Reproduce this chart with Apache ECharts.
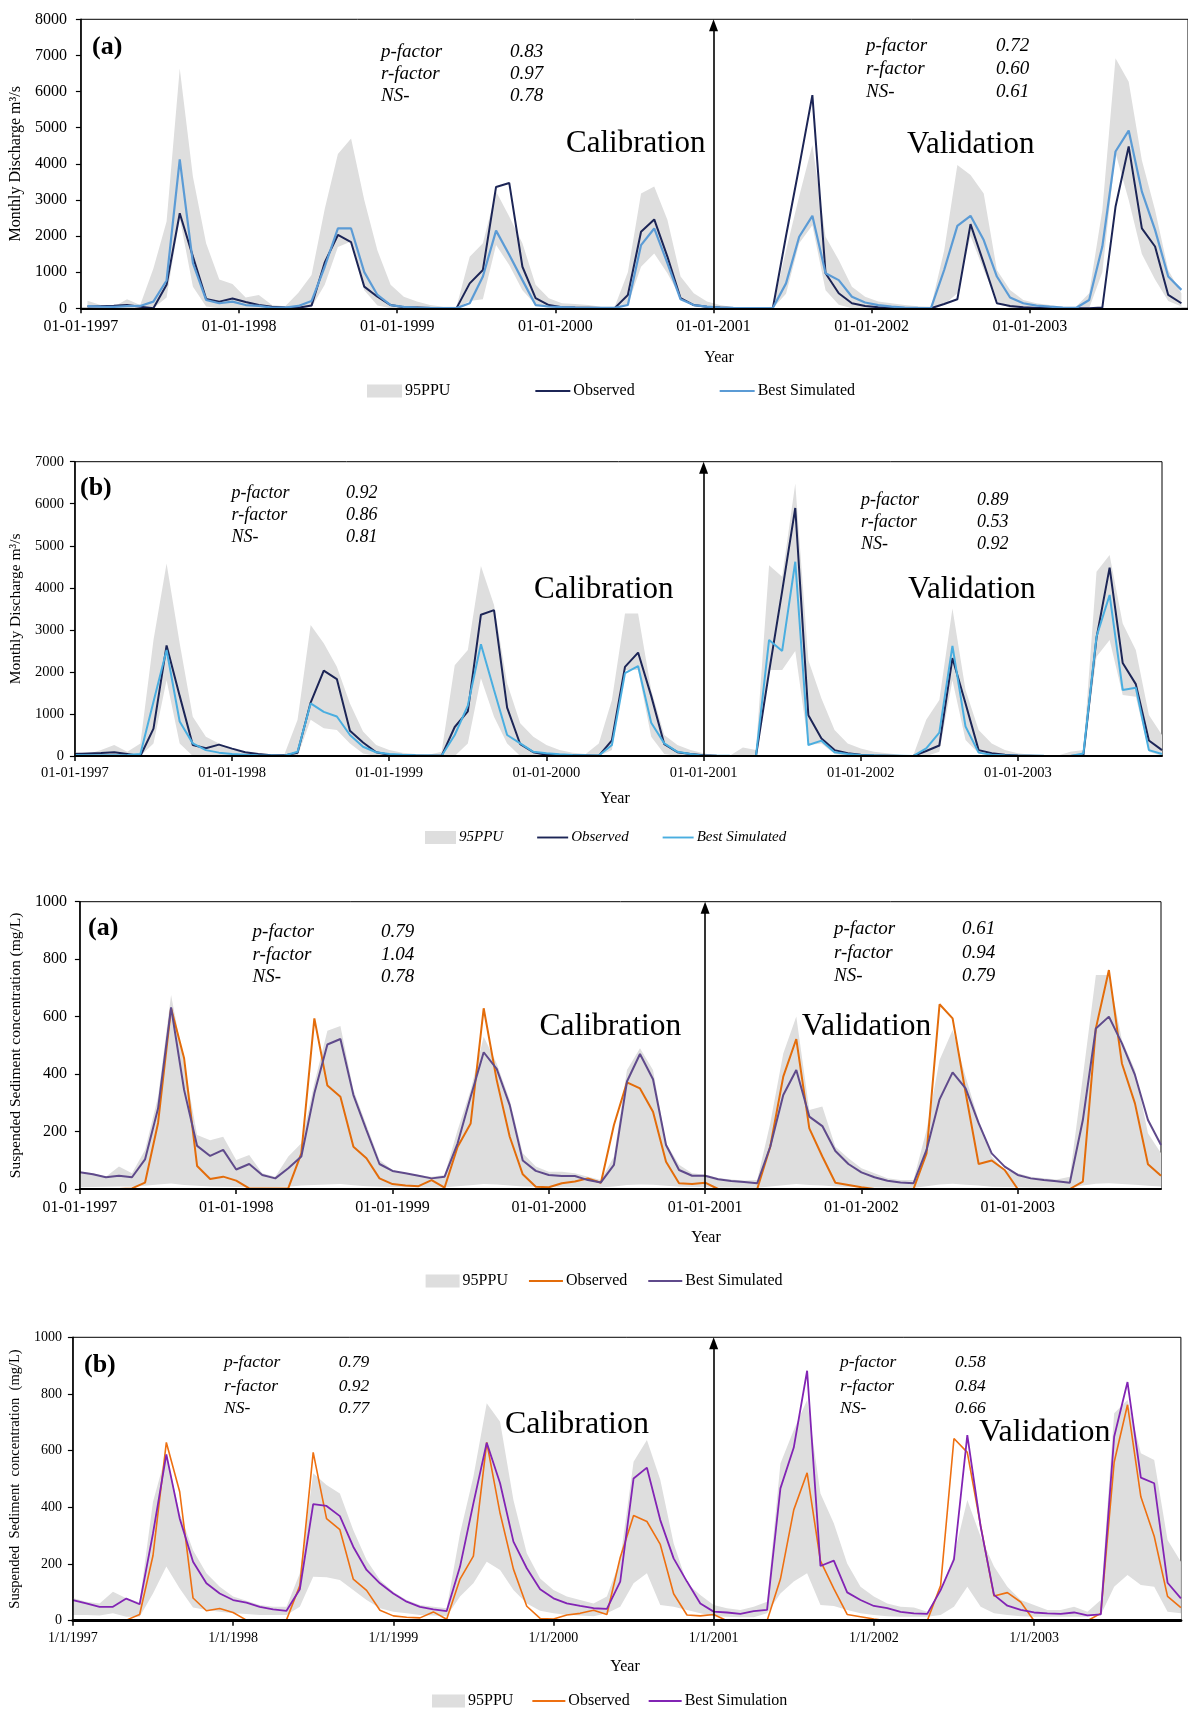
<!DOCTYPE html>
<html><head><meta charset="utf-8">
<script src="https://cdn.jsdelivr.net/npm/echarts@6/dist/echarts.min.js"></script>
<style>html,body{margin:0;padding:0;background:#fff}#c{width:1188px;height:1709px}</style>
</head><body><div id="c"></div>
<script>
// ---------- DATA (monthly, Jan 1997 .. Dec 2003) ----------
const tickLabelsDash = ['01-01-1997','01-01-1998','01-01-1999','01-01-2000','01-01-2001','01-01-2002','01-01-2003'];
const tickLabelsSlash = ['1/1/1997','1/1/1998','1/1/1999','1/1/2000','1/1/2001','1/1/2002','1/1/2003'];
const tickMonths = [0,12,24,36,48,60,72];

// Discharge (m3/s)
const obsQ = [50,60,70,90,45,0,650,2630,1430,260,185,270,
  175,90,45,20,15,75,1270,2030,1830,600,320,90,
  30,20,10,5,5,690,1060,3360,3470,1150,280,90,
  30,20,15,10,5,370,2120,2460,1430,280,90,45,
  20,5,0,0,0,2000,3920,5900,970,415,140,65,
  30,10,5,0,0,120,250,2330,1250,140,65,30,
  10,5,0,0,0,20,2810,4480,2210,1710,370,140];
const simQa = [60,45,40,60,65,185,770,4120,1250,230,140,185,
  90,65,20,20,65,200,1150,2210,2210,1000,370,90,
  40,20,10,5,5,140,880,2150,1480,780,90,50,
  30,20,15,10,10,90,1750,2210,1250,250,90,45,
  20,10,5,5,10,690,1980,2560,970,780,320,160,
  90,45,20,10,5,1060,2280,2560,1890,880,300,140,
  75,45,20,10,230,1710,4340,4920,3230,2170,880,510];
const upQa = [212,90,46,250,90,1100,2400,6640,3640,1800,800,670,
  300,370,90,60,430,920,2750,4270,4700,3000,1600,650,
  320,185,90,46,46,1430,1800,3230,2540,1800,650,280,
  140,120,90,46,46,1000,3180,3370,2450,880,415,185,
  90,30,20,20,40,1600,3100,4520,1980,1340,600,320,
  185,140,90,60,45,1600,3970,3690,3180,1060,510,230,
  140,90,45,45,415,2720,6920,6270,4100,2720,1060,415];
const loQa = [0,0,0,0,0,0,300,2500,600,50,0,0,
  0,0,0,0,0,30,650,1700,1850,500,80,0,
  0,0,0,0,0,200,250,1750,1200,500,100,0,
  0,0,0,0,0,100,1150,1520,970,300,50,0,
  0,0,0,0,0,400,1800,2300,500,100,0,0,
  0,0,0,0,0,100,415,2000,1060,200,0,0,
  0,0,0,0,0,1000,4300,3000,1500,800,200,50];
const simQb = [25,20,20,20,25,50,1290,2520,820,300,140,80,
  50,30,15,10,5,100,1250,1050,940,500,220,90,
  50,30,15,10,5,500,1200,2660,1570,500,300,100,
  63,40,24,15,10,260,1970,2140,790,300,100,50,
  8,5,3,2,0,2760,2500,4620,260,365,87,48,
  25,15,8,5,0,180,555,2620,700,80,30,15,
  8,5,3,2,0,60,2840,3830,1570,1625,140,48];
const upQb = [100,50,140,260,100,300,2760,4580,2680,935,460,300,
  180,100,63,30,40,860,3115,2680,2125,1250,580,260,
  140,80,50,30,100,2160,2520,4520,3590,1730,780,460,
  260,140,80,50,300,1330,3390,3390,1570,500,260,140,
  63,5,5,200,140,4540,4265,6480,2280,1370,620,300,
  180,100,63,30,5,860,1330,3510,1570,620,300,140,
  63,30,5,5,100,140,4380,4780,3150,2520,975,500];
const loQb = [0,0,0,0,0,0,300,1800,300,0,0,0,
  0,0,0,0,0,0,860,660,620,300,60,0,
  0,0,0,0,0,0,300,1850,935,300,0,0,
  0,0,0,0,0,140,2045,2045,460,50,0,0,
  0,0,0,0,0,2045,2045,2500,260,300,50,0,
  0,0,0,0,0,0,100,1800,380,60,0,0,
  0,0,0,0,0,0,2360,2760,1450,1410,100,0];

// Suspended sediment concentration (mg/L)
const obsSSC = [0,0,0,0,2,22,230,629,455,80,35,43,
  29,2,2,2,3,124,594,360,321,147,107,37,
  17,12,10,31,5,147,228,629,379,182,51,8,
  6,20,26,37,22,223,371,350,269,95,20,17,
  22,0,0,0,0,147,391,522,211,113,22,14,
  6,0,0,0,0,124,643,594,335,87,99,66,
  0,0,0,0,0,26,559,762,437,298,86,46];
const simSSCa = [58,51,41,46,41,103,280,632,345,150,115,136,
  68,87,49,37,72,113,333,503,522,327,205,87,
  63,55,46,37,43,159,321,476,418,292,99,63,
  49,45,45,31,23,84,374,470,382,153,66,46,
  46,34,28,24,20,147,327,414,252,219,132,87,
  58,41,29,23,20,136,312,406,350,229,124,78,
  49,37,31,27,22,240,559,600,507,397,240,153];
const upSSCa = [60,55,43,78,55,136,321,675,437,188,170,182,
  101,118,55,43,113,159,368,551,567,345,223,101,
  66,55,49,43,49,205,345,530,437,310,124,78,
  60,60,55,43,31,113,414,490,414,159,84,55,
  50,38,33,30,31,229,472,600,275,287,147,107,
  72,55,37,31,31,205,449,553,391,240,113,66,
  55,43,37,33,43,391,745,745,519,414,194,124];
const loSSCa = [6,7,8,9,8,11,16,19,14,11,9,8,
  7,6,6,7,8,12,14,16,17,13,10,8,
  7,6,6,5,6,10,13,17,16,12,9,8,
  7,6,6,5,5,9,14,16,15,11,8,7,
  6,5,5,4,4,9,13,17,14,12,9,7,
  6,5,5,4,4,10,16,18,15,12,8,7,
  6,5,5,4,4,12,18,20,17,15,11,9];
const simSSCb = [73,61,49,49,78,58,308,587,361,208,132,96,
  73,64,49,40,35,111,411,405,369,261,179,132,
  96,67,49,40,34,191,414,628,485,279,185,111,
  79,61,52,44,42,138,502,540,355,220,138,61,
  32,29,24,34,38,467,611,882,193,212,100,73,
  52,44,31,26,24,108,216,655,332,91,53,38,
  29,26,24,29,19,22,649,842,505,485,134,79];
const upSSCb = [80,67,61,102,79,65,420,591,379,249,167,120,
  85,70,55,49,49,167,520,479,449,320,214,144,
  102,73,55,49,44,308,508,767,702,426,238,149,
  108,85,73,61,85,214,561,638,497,273,132,91,
  55,44,38,49,67,555,673,779,449,344,202,120,
  85,61,49,47,32,108,230,426,296,191,120,73,
  55,38,38,49,32,73,732,779,591,567,285,208];
const loSSCb = [20,20,18,26,14,14,96,191,114,47,38,32,
  26,24,20,20,20,49,155,153,144,108,73,44,
  32,26,20,18,16,85,132,208,179,108,61,35,
  26,20,18,16,26,49,132,167,55,49,38,26,
  16,14,12,12,26,96,138,167,55,52,38,26,
  20,16,14,14,14,20,49,120,49,26,20,16,
  14,14,14,14,14,20,120,161,126,120,32,26];

// statistics text
const statNames = ['p-factor','r-factor','NS-'];
const calStats = [['0.83','0.97','0.78'],['0.92','0.86','0.81'],['0.79','1.04','0.78'],['0.79','0.92','0.77']];
const valStats = [['0.72','0.60','0.61'],['0.89','0.53','0.92'],['0.61','0.94','0.79'],['0.58','0.84','0.66']];
const panelTags = ['(a)','(b)','(a)','(b)'];
const simNames = ['Best Simulated','Best Simulated','Best Simulated','Best Simulation'];
const yNames = ['Monthly Discharge m³/s','Monthly Discharge m³/s','Suspended Sediment concentration (mg/L)','Suspended  Sediment  concentration  (mg/L)'];

// ---------- LAYOUT / STYLE ----------
const SERIF = '"Liberation Serif","Times New Roman",serif';
const BAND = '#dedede';
const LINE_ICON = 'path://M0,0H36V2.2H0Z';
const panels = [
  {obs:obsQ, sim:simQa, up:upQa, lo:loQa, labels:tickLabelsDash, off:0.5, xmax:84, ymax:8000, yint:1000,
   grid:{left:77.7, top:19.3, width:1115.5, height:289}, fs:16, yfs:16, ynameGap:52, ymargin:14, xmargin:10, xw:2,
   obsColor:'#1c2556', simColor:'#5b9bd5', obsW:2, simW:2.2,
   legend:{left:367, top:383, itemWidth:35, itemGap:85, fs:16, italic:false},
   tag:{x:92,y:47}, cal:{x:381, vx:510, y:[52,74,96]}, val:{x:866, vx:996, y:[46,68.5,91.5]},
   calT:{x:566,y:144,fs:31}, valT:{x:907,y:145,fs:31}, yearT:{x:719,y:358}, statFs:19},
  {obs:obsQ, sim:simQb, up:upQb, lo:loQb, labels:tickLabelsDash, off:0, xmax:83, ymax:7000, yint:1000,
   grid:{left:67, top:461.7, width:1095, height:294.3}, fs:14.5, yfs:15.5, ynameGap:44, ymargin:11, xmargin:10, xw:2,
   obsColor:'#1c2556', simColor:'#4aaee0', obsW:2, simW:2,
   legend:{left:425, top:830, itemWidth:31, itemGap:34, fs:15, italic:true},
   tag:{x:80,y:488}, cal:{x:231.5, vx:346, y:[493,515.7,537]}, val:{x:861, vx:977, y:[500,522,544]},
   calT:{x:534,y:590,fs:31}, valT:{x:908,y:590,fs:31}, yearT:{x:615,y:799}, statFs:18},
  {obs:obsSSC, sim:simSSCa, up:upSSCa, lo:loSSCa, labels:tickLabelsDash, off:0, xmax:83, ymax:1000, yint:200,
   grid:{left:76.5, top:901.7, width:1084.5, height:287.3}, fs:16, yfs:15.5, ynameGap:51, ymargin:13, xmargin:11, xw:2,
   obsColor:'#e36c0a', simColor:'#5f4a8b', obsW:2, simW:2,
   legend:{left:425.6, top:1273, itemWidth:34, itemGap:21, fs:16, italic:false},
   tag:{x:88,y:928}, cal:{x:252.6, vx:381, y:[931.7,955,977]}, val:{x:834, vx:962, y:[929,952.7,976]},
   calT:{x:539.6,y:1026.7,fs:31.5}, valT:{x:801.7,y:1026.7,fs:31.5}, yearT:{x:706,y:1238}, statFs:19},
  {obs:obsSSC, sim:simSSCb, up:upSSCb, lo:loSSCb, labels:tickLabelsSlash, off:0, xmax:83, ymax:1000, yint:200,
   grid:{left:68.9, top:1337.3, width:1112, height:283.4}, fs:14, yfs:14.5, ynameGap:47, ymargin:11, xmargin:11, xw:3,
   obsColor:'#ee7011', simColor:'#8224b4', obsW:1.6, simW:1.8,
   legend:{left:432, top:1693, itemWidth:33, itemGap:19, fs:16, italic:false},
   tag:{x:84,y:1365}, cal:{x:224, vx:338.7, y:[1362,1386,1408]}, val:{x:840, vx:955, y:[1362,1386,1408]},
   calT:{x:505,y:1425,fs:32}, valT:{x:979,y:1433,fs:32}, yearT:{x:625,y:1667}, statFs:17.5}
];

function pts(arr, off){ return arr.map((v,i)=>[i+off, v]); }

const grids=[], xAxes=[], yAxes=[], series=[], legends=[], graphics=[];
function txt(x,y,text,font,align){
  graphics.push({type:'text', x:x, y:y, silent:true, z:100,
    style:{text:text, font:font, fill:'#000', textAlign:align||'left', align:align||'left', textVerticalAlign:'middle', verticalAlign:'middle'}});
}

panels.forEach((p,k)=>{
  grids.push(Object.assign({show:true, borderColor:'#000', borderWidth:1, backgroundColor:'transparent', containLabel:false, z:0}, p.grid));
  xAxes.push({type:'value', gridIndex:k, min:0, max:p.xmax, interval:12, z:10,
    axisLine:{show:true, onZero:false, lineStyle:{color:'#000', width:p.xw}},
    axisTick:{show:true, inside:false, length:5, lineStyle:{color:'#000', width:1.5}, customValues:tickMonths},
    axisLabel:{show:true, margin:p.xmargin, color:'#000', fontFamily:SERIF, fontSize:p.fs, customValues:tickMonths,
      formatter:(v)=>{const j=tickMonths.indexOf(Math.round(v)); return j>=0?p.labels[j]:'';}},
    splitLine:{show:false}});
  yAxes.push({type:'value', gridIndex:k, min:0, max:p.ymax, interval:p.yint, z:10,
    name:yNames[k], nameLocation:'middle', nameGap:p.ynameGap, nameRotate:90,
    nameTextStyle:{color:'#000', fontFamily:SERIF, fontSize:p.yfs},
    axisLine:{show:true, lineStyle:{color:'#000', width:1.5}},
    axisTick:{show:true, inside:false, length:5, lineStyle:{color:'#000', width:1.2}},
    axisLabel:{margin:p.ymargin, color:'#000', fontFamily:SERIF, fontSize:p.fs, formatter:(v)=>String(v)},
    splitLine:{show:false}});
  const tagp = 'p'+k+'|';
  // 95PPU: upper bound filled grey, lower bound filled white on top of it
  series.push({type:'line', name:tagp+'95PPU', xAxisIndex:k, yAxisIndex:k,
    data:pts(p.up,p.off), symbol:'none', silent:true, z:1, color:BAND,
    lineStyle:{width:0, opacity:0}, areaStyle:{color:BAND, opacity:1}});
  series.push({type:'line', name:tagp+'lower', xAxisIndex:k, yAxisIndex:k,
    data:pts(p.lo,p.off), symbol:'none', silent:true, z:2, color:'#fff',
    lineStyle:{width:0, opacity:0}, areaStyle:{color:'#fff', opacity:1}});
  const topVal = p.ymax*(1-6/p.grid.height);
  series.push({type:'line', name:tagp+'Observed', xAxisIndex:k, yAxisIndex:k, data:pts(p.obs,p.off),
    symbol:'none', z:3, color:p.obsColor, lineStyle:{width:p.obsW, color:p.obsColor},
    markLine:{silent:true, symbol:['none','triangle'], symbolSize:[9,12], animation:false, label:{show:false},
      lineStyle:{color:'#000', width:1.6, type:'solid'},
      data:[[{coord:[48,0]},{coord:[48,topVal]}]]}});
  series.push({type:'line', name:tagp+simNames[k], xAxisIndex:k, yAxisIndex:k, data:pts(p.sim,p.off),
    symbol:'none', z:4, color:p.simColor, lineStyle:{width:p.simW, color:p.simColor}});
  legends.push({left:p.legend.left, top:p.legend.top, orient:'horizontal', itemWidth:p.legend.itemWidth, itemHeight:13,
    itemGap:p.legend.itemGap, padding:0, selectedMode:false,
    textStyle:{fontFamily:SERIF, fontSize:p.legend.fs, color:'#000', fontStyle:p.legend.italic?'italic':'normal', padding:[0,0,0,-2]},
    formatter:(n)=>n.split('|')[1],
    data:[{name:tagp+'95PPU', icon:'rect', itemStyle:{color:BAND}},
          {name:tagp+'Observed', icon:LINE_ICON, itemStyle:{color:p.obsColor}},
          {name:tagp+simNames[k], icon:LINE_ICON, itemStyle:{color:p.simColor}}]});
  // annotations
  txt(p.tag.x, p.tag.y, panelTags[k], 'bold 26px '+SERIF);
  const sf = 'italic '+p.statFs+'px '+SERIF;
  statNames.forEach((s,j)=>{
    txt(p.cal.x, p.cal.y[j], s, sf); txt(p.cal.vx, p.cal.y[j], calStats[k][j], sf);
    txt(p.val.x, p.val.y[j], s, sf); txt(p.val.vx, p.val.y[j], valStats[k][j], sf);
  });
  txt(p.calT.x, p.calT.y, 'Calibration', p.calT.fs+'px '+SERIF);
  txt(p.valT.x, p.valT.y, 'Validation', p.valT.fs+'px '+SERIF);
  txt(p.yearT.x, p.yearT.y, 'Year', '16px '+SERIF, 'center');
});

const chart = echarts.init(document.getElementById('c'), null, {renderer:'canvas', width:1188, height:1709});
chart.setOption({animation:false, backgroundColor:'#fff', grid:grids, xAxis:xAxes, yAxis:yAxes,
  series:series, legend:legends, graphic:graphics});
</script></body></html>
